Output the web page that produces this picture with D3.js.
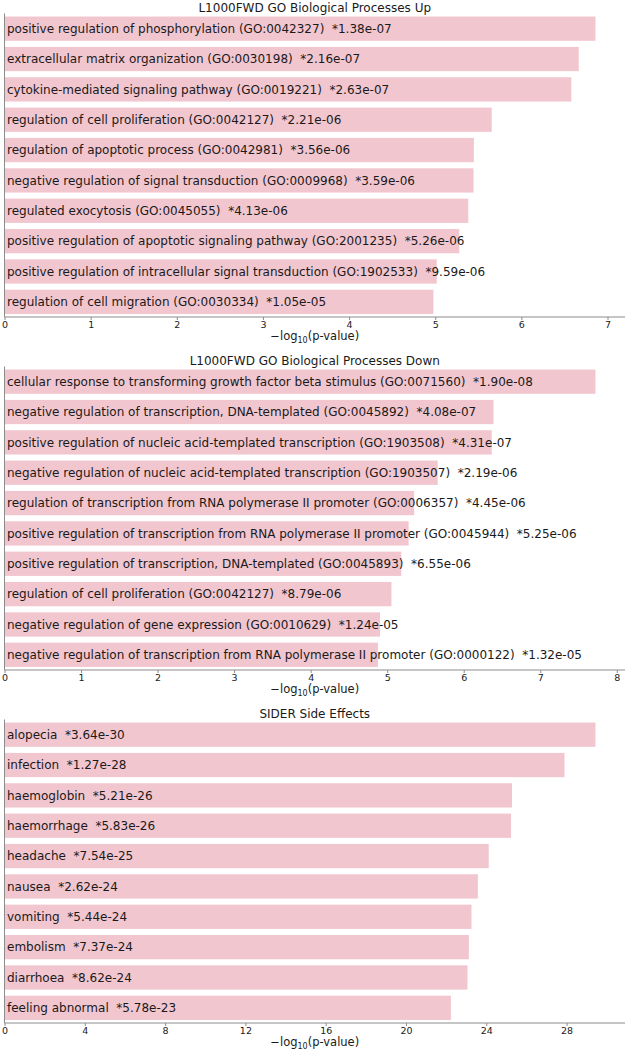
<!DOCTYPE html>
<html>
<head>
<meta charset="utf-8">
<script src="https://cdn.jsdelivr.net/npm/d3@7"></script>
<style>
  html, body { margin: 0; padding: 0; background: #fff; }
  svg { display: block; }
  text { font-family: "DejaVu Sans", sans-serif; fill: #1a1a1a; }
</style>
</head>
<body>
<svg id="chart" width="628" height="1050"></svg>
<script>
// ---- data ----
const titles = [
  "L1000FWD GO Biological Processes Up",
  "L1000FWD GO Biological Processes Down",
  "SIDER Side Effects"
];

const upTerms = [
  "positive regulation of phosphorylation (GO:0042327)",
  "extracellular matrix organization (GO:0030198)",
  "cytokine-mediated signaling pathway (GO:0019221)",
  "regulation of cell proliferation (GO:0042127)",
  "regulation of apoptotic process (GO:0042981)",
  "negative regulation of signal transduction (GO:0009968)",
  "regulated exocytosis (GO:0045055)",
  "positive regulation of apoptotic signaling pathway (GO:2001235)",
  "positive regulation of intracellular signal transduction (GO:1902533)",
  "regulation of cell migration (GO:0030334)"
];
const upPvals = ["1.38e-07","2.16e-07","2.63e-07","2.21e-06","3.56e-06","3.59e-06","4.13e-06","5.26e-06","9.59e-06","1.05e-05"];
const upScores = [6.860, 6.666, 6.580, 5.656, 5.449, 5.445, 5.384, 5.279, 5.018, 4.979];
const upTicks = [0, 1, 2, 3, 4, 5, 6, 7];

const downTerms = [
  "cellular response to transforming growth factor beta stimulus (GO:0071560)",
  "negative regulation of transcription, DNA-templated (GO:0045892)",
  "positive regulation of nucleic acid-templated transcription (GO:1903508)",
  "negative regulation of nucleic acid-templated transcription (GO:1903507)",
  "regulation of transcription from RNA polymerase II promoter (GO:0006357)",
  "positive regulation of transcription from RNA polymerase II promoter (GO:0045944)",
  "positive regulation of transcription, DNA-templated (GO:0045893)",
  "regulation of cell proliferation (GO:0042127)",
  "negative regulation of gene expression (GO:0010629)",
  "negative regulation of transcription from RNA polymerase II promoter (GO:0000122)"
];
const downPvals = ["1.90e-08","4.08e-07","4.31e-07","2.19e-06","4.45e-06","5.25e-06","6.55e-06","8.79e-06","1.24e-05","1.32e-05"];
const downScores = [7.721, 6.389, 6.366, 5.660, 5.352, 5.280, 5.184, 5.056, 4.907, 4.879];
const downTicks = [0, 1, 2, 3, 4, 5, 6, 7, 8];

const siderTerms = [
  "alopecia", "infection", "haemoglobin", "haemorrhage", "headache",
  "nausea", "vomiting", "embolism", "diarrhoea", "feeling abnormal"
];
const siderPvals = ["3.64e-30","1.27e-28","5.21e-26","5.83e-26","7.54e-25","2.62e-24","5.44e-24","7.37e-24","8.62e-24","5.78e-23"];
const siderScores = [29.439, 27.896, 25.283, 25.234, 24.123, 23.582, 23.264, 23.133, 23.064, 22.238];
const siderTicks = [0, 4, 8, 12, 16, 20, 24, 28];

// ---- drawing ----
const panels = [
  { title: titles[0], terms: upTerms, pvals: upPvals, scores: upScores, ticks: upTicks },
  { title: titles[1], terms: downTerms, pvals: downPvals, scores: downScores, ticks: downTicks },
  { title: titles[2], terms: siderTerms, pvals: siderPvals, scores: siderScores, ticks: siderTicks }
];

const svg = d3.select("#chart");
const left = 4.5, right = 625;
const panelTop0 = 13.5, panelHeight = 303.5, panelStep = 353;
const barColor = "#f2c6cf";
const axisColor = "#8c8c8c";

panels.forEach((p, i) => {
  const top = panelTop0 + i * panelStep;
  const bottom = top + panelHeight;
  const g = svg.append("g");

  const x = d3.scaleLinear()
    .domain([0, d3.max(p.scores) * 1.05])
    .range([left, right]);
  const y = d3.scaleBand()
    .domain(d3.range(p.terms.length))
    .range([top, bottom])
    .paddingInner(0.2)
    .paddingOuter(0.1);

  // title
  g.append("text")
    .attr("x", (left + right) / 2)
    .attr("y", top - 2)
    .attr("text-anchor", "middle")
    .attr("font-size", 12)
    .text(p.title);

  // bars
  g.selectAll("rect.bar")
    .data(p.scores)
    .join("rect")
    .attr("class", "bar")
    .attr("x", x(0))
    .attr("y", (d, j) => y(j))
    .attr("width", d => x(d) - x(0))
    .attr("height", y.bandwidth())
    .attr("fill", barColor);

  // bar labels
  g.selectAll("text.lbl")
    .data(p.terms)
    .join("text")
    .attr("class", "lbl")
    .attr("x", x(0) + 2.5)
    .attr("y", (d, j) => y(j) + y.bandwidth() / 2)
    .attr("dy", "0.35em")
    .attr("font-size", 12)
    .style("white-space", "pre")
    .text((d, j) => d + "  *" + p.pvals[j]);

  // left spine
  g.append("line")
    .attr("x1", left).attr("x2", left)
    .attr("y1", top).attr("y2", bottom)
    .attr("stroke", axisColor).attr("stroke-width", 1);

  // x axis
  const axis = d3.axisBottom(x)
    .tickValues(p.ticks)
    .tickFormat(d3.format("d"))
    .tickSize(3)
    .tickPadding(1.5);
  const ax = g.append("g")
    .attr("transform", `translate(0,${bottom})`)
    .call(axis);
  ax.select(".domain").attr("stroke", axisColor).attr("d", `M${left},0H${right}`);
  ax.selectAll(".tick line").attr("stroke", axisColor);
  ax.selectAll(".tick text")
    .attr("font-size", 9.5)
    .attr("font-family", "DejaVu Sans, sans-serif")
    .attr("fill", "#1a1a1a");

  // axis label
  const xl = g.append("text")
    .attr("x", (left + right) / 2)
    .attr("y", bottom + 23)
    .attr("text-anchor", "middle")
    .attr("font-size", 11.5);
  xl.append("tspan").text("\u2212log");
  xl.append("tspan").attr("font-size", 8).attr("dy", 2.5).text("10");
  xl.append("tspan").attr("dy", -2.5).text("(p-value)");
});
</script>
</body>
</html>
